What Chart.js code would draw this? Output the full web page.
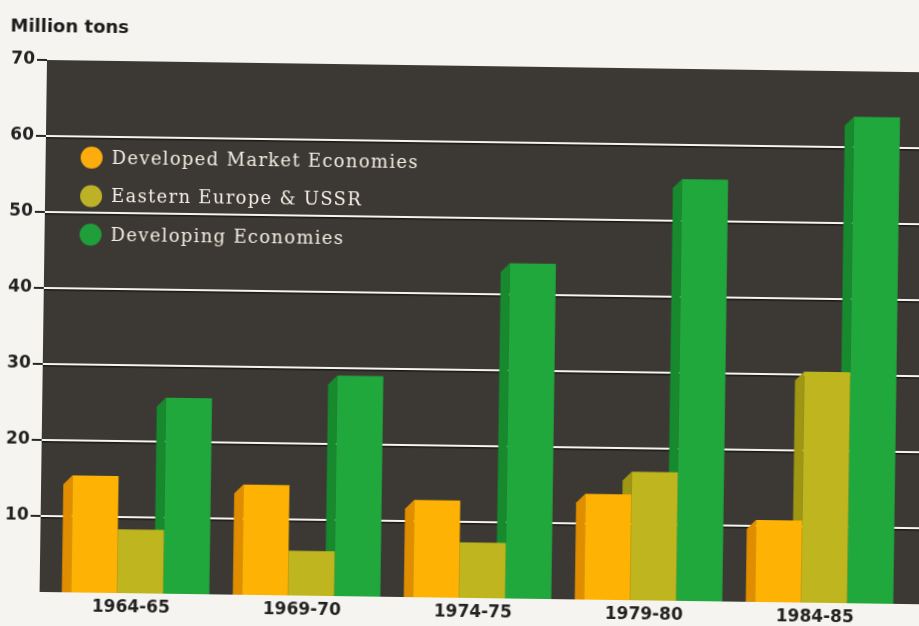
<!DOCTYPE html>
<html>
<head>
<meta charset="utf-8">
<title>Million tons</title>
<script src="https://cdn.jsdelivr.net/npm/chart.js@4.4.1/dist/chart.umd.min.js"></script>
<style>
    html, body {
        margin: 0;
        padding: 0;
        width: 919px;
        height: 626px;
        overflow: hidden;
        background: #f5f4f0;
    }
    #wrap {
        position: absolute;
        left: 0;
        top: 0;
        width: 960px;
        height: 640px;
        transform: rotate(0.8deg);
        transform-origin: 47px 60px;
    }
</style>
</head>
<body>
<div id="wrap"><canvas id="chart" width="960" height="640"></canvas></div>
<script>
// ── Dados ─────────────────────────────────────────────────────────────────

const PERIODS = ["1964-65", "1969-70", "1974-75", "1979-80", "1984-85"];

const DEVELOPED  = [15.4, 14.5, 12.8, 13.9, 10.8];
const EASTERN    = [8.4, 5.9, 7.3, 16.9, 30.4];
const DEVELOPING = [25.8, 29.0, 44.1, 55.5, 64.0];

const Y_TICKS = [10, 20, 30, 40, 50, 60, 70];

// ── Estilo ────────────────────────────────────────────────────────────────

const COLORS = {
    plot:  "#3c3834",
    grid:  "#f4f4f0",
    shade: "rgba(0,0,0,0.55)",
    ink:   "#222",
    legendText: "#f3efe2",
    developed:  { front: "#fdb204", side: "#e08e00", dot: "#fcac0c" },
    eastern:    { front: "#bfb51e", side: "#9f9612", dot: "#bcb127" },
    developing: { front: "#20a83c", side: "#168a2d", dot: "#1f9e3a" }
};

const SIDE_DEPTH = 9;     // largura da face lateral "3D" das barras
const PLOT_INSET = 15;    // fundo escuro começa um pouco antes da 1ª categoria

function getEl(id) {
    return document.getElementById(id);
}

// ── Plugins ───────────────────────────────────────────────────────────────

// Fundo escuro, linhas de grade brancas e marcas do eixo Y
const plotBackdrop = {
    id: "plotBackdrop",
    beforeDraw(chart) {
        const { ctx, chartArea, width } = chart;
        const y = chart.scales.y;
        const left = chartArea.left - PLOT_INSET;

        ctx.save();
        ctx.fillStyle = COLORS.plot;
        ctx.fillRect(left, chartArea.top, width - left, chartArea.bottom - chartArea.top);

        for (const v of Y_TICKS) {
            const py = Math.round(y.getPixelForValue(v));

            // marca curta fora da área
            ctx.fillStyle = "#2a2826";
            ctx.fillRect(left - 10, py - 1, 10, 2);

            if (v >= 70) continue;
            ctx.fillStyle = COLORS.shade;
            ctx.fillRect(left, py + 1, width - left, 1.5);
            ctx.fillStyle = COLORS.grid;
            ctx.fillRect(left, py - 1, width - left, 2);
        }
        ctx.restore();
    }
};

// Face lateral escura à esquerda de cada barra (efeito de volume)
const barSides = {
    id: "barSides",
    beforeDatasetsDraw(chart) {
        const { ctx } = chart;
        ctx.save();
        chart.data.datasets.forEach((ds, i) => {
            const meta = chart.getDatasetMeta(i);
            ctx.fillStyle = ds.sideColor;
            for (const el of meta.data) {
                const { x, y, base, width } = el.getProps(["x", "y", "base", "width"], true);
                const left = x - width / 2;
                ctx.beginPath();
                ctx.moveTo(left - SIDE_DEPTH, y + SIDE_DEPTH);
                ctx.lineTo(left, y);
                ctx.lineTo(left, base);
                ctx.lineTo(left - SIDE_DEPTH, base);
                ctx.closePath();
                ctx.fill();
            }
        });
        ctx.restore();
    }
};

// Legenda desenhada dentro da área do gráfico
const innerLegend = {
    id: "innerLegend",
    afterDraw(chart) {
        const { ctx, chartArea } = chart;
        const cx = chartArea.left + 31;
        const top = chartArea.top + 97;

        ctx.save();
        ctx.font = "18px 'DejaVu Serif'";
        ctx.letterSpacing = "1.3px";
        ctx.textBaseline = "middle";
        chart.data.datasets.forEach((ds, i) => {
            const cy = top + i * 38.5;
            ctx.beginPath();
            ctx.arc(cx, cy, 11, 0, Math.PI * 2);
            ctx.fillStyle = ds.dotColor;
            ctx.fill();
            ctx.fillStyle = COLORS.legendText;
            ctx.fillText(ds.label, cx + 20, cy + 1);
        });
        ctx.restore();
    }
};

// ── Gráfico ───────────────────────────────────────────────────────────────

function dataset(label, data, c) {
    return {
        label,
        data,
        backgroundColor: c.front,
        sideColor: c.side,
        dotColor: c.dot,
        borderWidth: 0,
        categoryPercentage: 0.81,
        barPercentage: 1
    };
}

new Chart(getEl("chart"), {
    type: "bar",
    data: {
        labels: PERIODS,
        datasets: [
            dataset("Developed Market Economies", DEVELOPED, COLORS.developed),
            dataset("Eastern Europe & USSR", EASTERN, COLORS.eastern),
            dataset("Developing Economies", DEVELOPING, COLORS.developing)
        ]
    },
    plugins: [plotBackdrop, barSides, innerLegend],
    options: {
        responsive: false,
        animation: false,
        devicePixelRatio: 1,
        layout: { padding: { left: 10, right: 43, top: 0, bottom: 0 } },
        plugins: {
            legend: { display: false },
            tooltip: { enabled: false },
            title: {
                display: true,
                text: "Million tons",
                align: "start",
                color: "#1c1c1c",
                font: { family: "'DejaVu Sans'", size: 18, weight: "bold" },
                padding: { top: 17, bottom: 21.4 }
            }
        },
        scales: {
            x: {
                grid: { display: false, drawTicks: false },
                border: { display: false },
                ticks: {
                    color: COLORS.ink,
                    padding: 4,
                    labelOffset: -9,
                    font: { family: "'DejaVu Sans'", size: 17, weight: "bold" }
                },
                afterFit: s => { s.height = 48; }
            },
            y: {
                min: 0,
                max: 70,
                grid: { display: false, drawTicks: false },
                border: { display: false },
                ticks: {
                    stepSize: 10,
                    color: COLORS.ink,
                    padding: 27,
                    font: { family: "'DejaVu Sans'", size: 17, weight: "bold" },
                    callback: v => (v === 0 ? "" : v)
                },
                afterFit: s => { s.width = 52; }
            }
        }
    }
});
</script>
</body>
</html>
